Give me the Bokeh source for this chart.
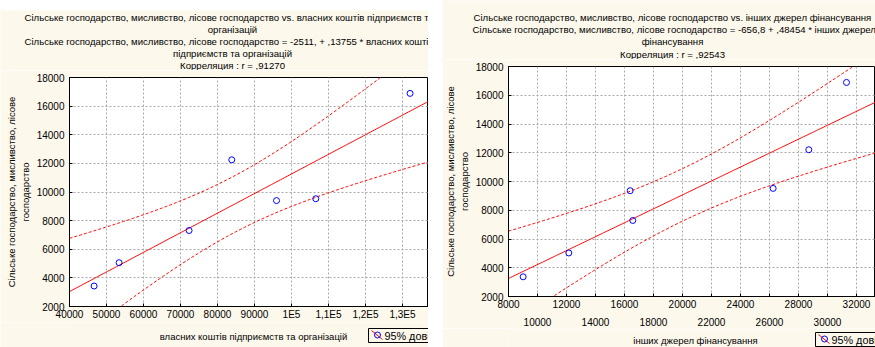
import numpy as np
from bokeh.plotting import figure
from bokeh.models import FixedTicker, LinearAxis, Spacer, Range1d, ColumnDataSource
from bokeh.layouts import row, column
from bokeh.core.properties import value
from bokeh.embed import file_html
from bokeh.resources import INLINE

# ---------------- data ----------------
left_x = [46650, 53400, 72320, 83860, 95950, 106570, 132050]
left_y = [3430, 5060, 7310, 12250, 9400, 9530, 16890]
right_x = [9010, 12160, 16390, 16570, 26250, 28710, 31310]
right_y = [3370, 5030, 9360, 7290, 9520, 12210, 16890]

y_ticks = [2000, 4000, 6000, 8000, 10000, 12000, 14000, 16000, 18000]
left_x_ticks = [40000, 50000, 60000, 70000, 80000, 90000, 100000, 110000, 120000, 130000, 140000]
left_x_labels = ["40000", "50000", "60000", "70000", "80000", "90000", "1E5", "1,1E5", "1,2E5", "1,3E5", "1,4E5"]
right_x_ticks = [8000, 10000, 12000, 14000, 16000, 18000, 20000, 22000, 24000, 26000, 28000, 30000, 32000, 34000]
right_row1 = [8000, 12000, 16000, 20000, 24000, 28000, 32000]
right_row2 = [10000, 14000, 18000, 22000, 26000, 30000, 34000]

left_titles = [
    "Сільське господарство, мисливство, лісове господарство vs. власних коштів підприємств та",
    "організацій",
    "Сільське господарство, мисливство, лісове господарство = -2511, + ,13755 * власних коштів",
    "підприємств та організацій",
    "Корреляция : r = ,91270",
]
right_titles = [
    "Сільське господарство, мисливство, лісове господарство vs. інших джерел фінансування",
    "Сільське господарство, мисливство, лісове господарство = -656,8 + ,48454 * інших джерел",
    "фінансування",
    "Корреляция : r = ,92543",
]
y_label = "Сільське господарство, мисливство, лісове\nгосподарство"
left_xlabel = "власних коштів підприємств та організацій"
right_xlabel = "інших джерел фінансування"
legend_label = "95% довір.інт."
T975_DF5 = 2.5706  # Student t quantile, 5 d.f.

FONT = "Liberation Sans"
FS = "9.5px"      # axis titles
TKS = "10px"      # tick labels
TFS = "9.6px"     # chart titles
LFS = "10.8px"    # legend text
CREAM = "#fcf8ec"


def regression_band(xd, yd, xs):
    xd = np.asarray(xd, float)
    yd = np.asarray(yd, float)
    n = len(xd)
    b, a = np.polyfit(xd, yd, 1)
    res = yd - (a + b * xd)
    s = np.sqrt(np.sum(res ** 2) / (n - 2))
    sxx = np.sum((xd - xd.mean()) ** 2)
    fit = a + b * xs
    half = T975_DF5 * s * np.sqrt(1.0 / n + (xs - xd.mean()) ** 2 / sxx)
    return fit, fit - half, fit + half


def blank_fig(width, height, left=0):
    # frame spans [left, width] in figure pixels; the x range is in figure pixels too
    p = figure(width=width, height=height, output_backend="svg", toolbar_location=None,
               x_range=Range1d(left, width), y_range=Range1d(height, 0),
               x_axis_type=None, y_axis_type=None,
               min_border=0, min_border_left=left, min_border_right=0,
               min_border_top=0, min_border_bottom=0)
    p.border_fill_color = CREAM
    p.background_fill_color = CREAM
    p.outline_line_color = None
    p.xgrid.visible = False
    p.ygrid.visible = False
    return p


def add_texts(p, texts, xs, ys, aligns, size=FS):
    src = ColumnDataSource(dict(x=xs, y=ys, t=texts, a=aligns))
    p.text(x="x", y="y", text="t", source=src, text_align="a",
           text_baseline="middle", text_font=value(FONT), text_font_size=size,
           text_color="black")


def make_chart(width, height, xr, border_left, border_top, border_bottom):
    p = figure(width=width, height=height, output_backend="svg", toolbar_location=None,
               x_range=Range1d(*xr), y_range=Range1d(2000, 18000),
               min_border_left=border_left, min_border_right=0,
               min_border_top=border_top, min_border_bottom=border_bottom)
    p.border_fill_color = CREAM
    p.background_fill_color = "white"
    p.outline_line_color = "black"
    p.outline_line_width = 1
    for g in (p.xgrid, p.ygrid):
        g.grid_line_color = "#a9a9a9"
        g.grid_line_dash = "2 2"
        g.grid_line_width = 1
    for ax in (p.xaxis, p.yaxis):
        ax.axis_line_color = "black"
        ax.major_tick_line_color = "black"
        ax.major_tick_in = 3
        ax.major_tick_out = 0
        ax.minor_tick_line_color = None
        ax.major_label_text_font = FONT
        ax.major_label_text_font_size = TKS
        ax.major_label_text_color = "black"
        ax.axis_label_text_font = FONT
        ax.axis_label_text_font_size = FS
        ax.axis_label_text_font_style = "normal"
        ax.axis_label_text_color = "black"
    p.yaxis.ticker = FixedTicker(ticks=y_ticks)
    p.yaxis.major_label_standoff = 5
    p.yaxis.axis_label = y_label
    p.yaxis.axis_label_standoff = 3
    p.ygrid.ticker = FixedTicker(ticks=y_ticks)
    return p


def draw_series(p, xd, yd, xr):
    xs = np.linspace(xr[0], xr[1], 200)
    fit, lo, hi = regression_band(xd, yd, xs)
    p.line(xs, fit, line_color="red", line_width=1)
    p.line(xs, lo, line_color="red", line_width=1, line_dash="3 2")
    p.line(xs, hi, line_color="red", line_width=1, line_dash="3 2")
    p.scatter(xd, yd, marker="circle", size=6, fill_color=None,
              line_color="blue", line_width=1)


def make_footer(width, height, left, label, label_x, label_y, box_left, box_top):
    """Axis title plus a legend key (box, red line, blue circle, text)."""
    f = blank_fig(width, height, left)
    add_texts(f, [label], [label_x], [label_y], ["center"])
    bl, bt = box_left, box_top
    f.quad(left=[bl], right=[width + 20], top=[bt], bottom=[bt + 14],
           fill_color=CREAM, line_color="black", line_width=1)
    f.segment(x0=[bl + 3], y0=[bt + 2], x1=[bl + 14], y1=[bt + 11],
              line_color="red", line_width=1)
    f.scatter(x=[bl + 9], y=[bt + 6.5], marker="circle", size=6, fill_color=None,
              line_color="blue", line_width=1)
    add_texts(f, [legend_label], [bl + 16], [bt + 7], ["left"], size=LFS)
    return f


# ---------------- left panel (page x 0..428) ----------------
LW = 428
LB = 69
lxr = (40000, 137030)
l_top = Spacer(width=LW, height=10)
l_head = blank_fig(LW, 60)
add_texts(l_head, left_titles, [24, 232, 24, 232, 232], [7, 18.5, 31, 42.5, 54.5],
          ["left", "center", "left", "center", "center"], size=TFS)

l_chart = make_chart(LW, 252, lxr, LB, 7, 15)
l_chart.xaxis.ticker = FixedTicker(ticks=left_x_ticks)
l_chart.xgrid.ticker = FixedTicker(ticks=left_x_ticks)
l_chart.xaxis.major_label_overrides = {t: s for t, s in zip(left_x_ticks, left_x_labels)}
l_chart.xaxis.major_label_standoff = 2
draw_series(l_chart, left_x, left_y, lxr)

l_foot = make_footer(LW, 25, LB, left_xlabel, 253, 14, 368, 6)

# ---------------- right panel (page x 442..875) ----------------
RW = 433
RB = 66
rxr = (8000, 33310)
r_head = blank_fig(RW, 59)
add_texts(r_head, right_titles, [31, 30, 230, 230], [16.5, 29, 40.5, 53.5],
          ["left", "left", "center", "center"], size=TFS)

r_chart = make_chart(RW, 269, rxr, RB, 7, 28)
r_chart.xaxis.ticker = FixedTicker(ticks=right_x_ticks)
r_chart.xgrid.ticker = FixedTicker(ticks=right_x_ticks)
r_chart.xaxis.major_label_overrides = {t: (str(t) if t in right_row1 else "") for t in right_x_ticks}
r_chart.xaxis.major_label_standoff = 3
ax2 = LinearAxis(ticker=FixedTicker(ticks=right_row2), axis_line_color=None,
                 major_tick_line_color=None, minor_tick_line_color=None,
                 major_label_standoff=1, major_label_text_font=FONT,
                 major_label_text_font_size=TKS, major_label_text_color="black")
r_chart.add_layout(ax2, "below")
draw_series(r_chart, right_x, right_y, rxr)

r_foot = make_footer(RW, 19, RB, right_xlabel, 253, 12, 373, 4)

layout = row(column(l_top, row(l_head), l_chart, row(l_foot), spacing=0),
             Spacer(width=14, height=347),
             column(row(r_head), r_chart, row(r_foot), spacing=0), spacing=0)

open("out.html", "w").write(file_html(layout, INLINE))
